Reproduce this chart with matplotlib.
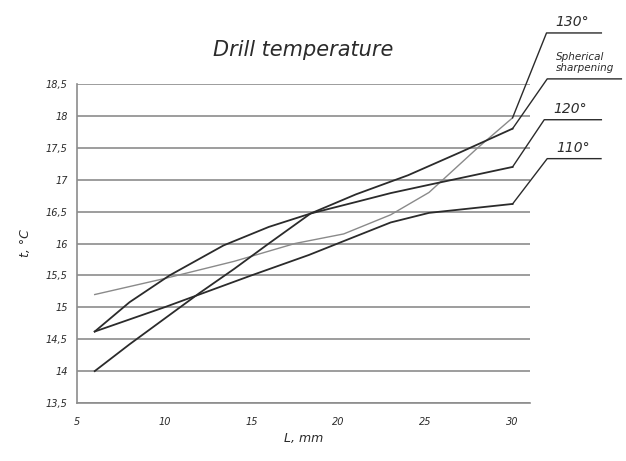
import matplotlib
matplotlib.use("Agg")
import matplotlib.pyplot as plt

# readings from the reference chart (L in mm, t in deg C)
length_130 = [6, 10, 14, 17.5, 20.3, 23, 25.2, 28, 30]
temp_130 = [15.2, 15.45, 15.72, 16.0, 16.15, 16.45, 16.8, 17.5, 17.97]

length_sph = [6, 8, 10, 12, 14, 16, 18.4, 21, 24, 27, 30]
temp_sph = [14.0, 14.42, 14.82, 15.22, 15.6, 16.0, 16.47, 16.77, 17.07, 17.43, 17.8]

length_120 = [6, 8, 10.3, 13.4, 16, 18.4, 21, 23, 25.2, 30]
temp_120 = [14.62, 15.08, 15.5, 15.97, 16.26, 16.47, 16.65, 16.79, 16.92, 17.2]

length_110 = [6, 10, 12, 15, 18.3, 20.6, 23, 25.2, 30]
temp_110 = [14.62, 15.0, 15.2, 15.5, 15.82, 16.07, 16.33, 16.48, 16.62]

y_ticks = [13.5, 14, 14.5, 15, 15.5, 16, 16.5, 17, 17.5, 18, 18.5]
y_tick_labels = ["13,5", "14", "14,5", "15", "15,5", "16", "16,5", "17", "17,5", "18", "18,5"]
x_ticks = [5, 10, 15, 20, 25, 30]

# leader lines: label, knee point and end of the shelf
series_labels = ["130°", "Spherical\nsharpening", "120°", "110°"]
knee_x = [31.95, 31.99, 31.82, 31.99]
shelf_y = [19.3, 18.58, 17.94, 17.33]
shelf_end = [35.1, 36.25, 35.1, 35.08]

dark = "#2b2b2b"
grid_col = "#8c8c8c"

fig = plt.figure(figsize=(6.26, 4.61), dpi=100)
ax = fig.add_axes([0.1235, 0.1258, 0.7231, 0.692])

for y in y_ticks:
    ax.axhline(y, color=grid_col, lw=1.2, zorder=1)

ax.plot(length_130, temp_130, color="#8a8a8a", lw=1.0, zorder=3)
ax.plot(length_sph, temp_sph, color=dark, lw=1.3, zorder=3)
ax.plot(length_120, temp_120, color=dark, lw=1.3, zorder=3)
ax.plot(length_110, temp_110, color=dark, lw=1.3, zorder=3)

ends = [(length_130[-1], temp_130[-1]), (length_sph[-1], temp_sph[-1]),
        (length_120[-1], temp_120[-1]), (length_110[-1], temp_110[-1])]

for i, (ex, ey) in enumerate(ends):
    ax.plot([ex, knee_x[i], shelf_end[i]], [ey, shelf_y[i], shelf_y[i]],
            color=dark, lw=1.0, clip_on=False, zorder=3)
    if i == 1:
        ax.text(knee_x[i] + 0.5, shelf_y[i] + 0.1, series_labels[i], fontsize=7.5,
                style="italic", color=dark, va="bottom", ha="left", linespacing=1.1)
    else:
        ax.text(knee_x[i] + 0.5, shelf_y[i] + 0.06, series_labels[i], fontsize=10,
                style="italic", color=dark, va="bottom", ha="left")

ax.set_xlim(5, 31)
ax.set_ylim(13.5, 18.5)
ax.set_xticks(x_ticks)
ax.set_yticks(y_ticks)
ax.set_yticklabels(y_tick_labels)
ax.tick_params(axis="y", length=0, labelsize=7, colors=dark, pad=7)
ax.tick_params(axis="x", length=0, labelsize=7, colors=dark, pad=10)
for lab in ax.get_xticklabels() + ax.get_yticklabels():
    lab.set_fontstyle("italic")

for side in ["top", "right"]:
    ax.spines[side].set_visible(False)
ax.spines["left"].set_color(grid_col)
ax.spines["left"].set_linewidth(1.2)
ax.spines["bottom"].set_color(grid_col)
ax.spines["bottom"].set_linewidth(1.2)

ax.set_xlabel("L, mm", fontsize=9, style="italic", color=dark, labelpad=4)
ax.set_ylabel("t, °C", fontsize=9, style="italic", color=dark, labelpad=10)
ax.set_title("Drill temperature", fontsize=15, style="italic", color=dark, pad=20)

fig.savefig("out.png", dpi=100)
